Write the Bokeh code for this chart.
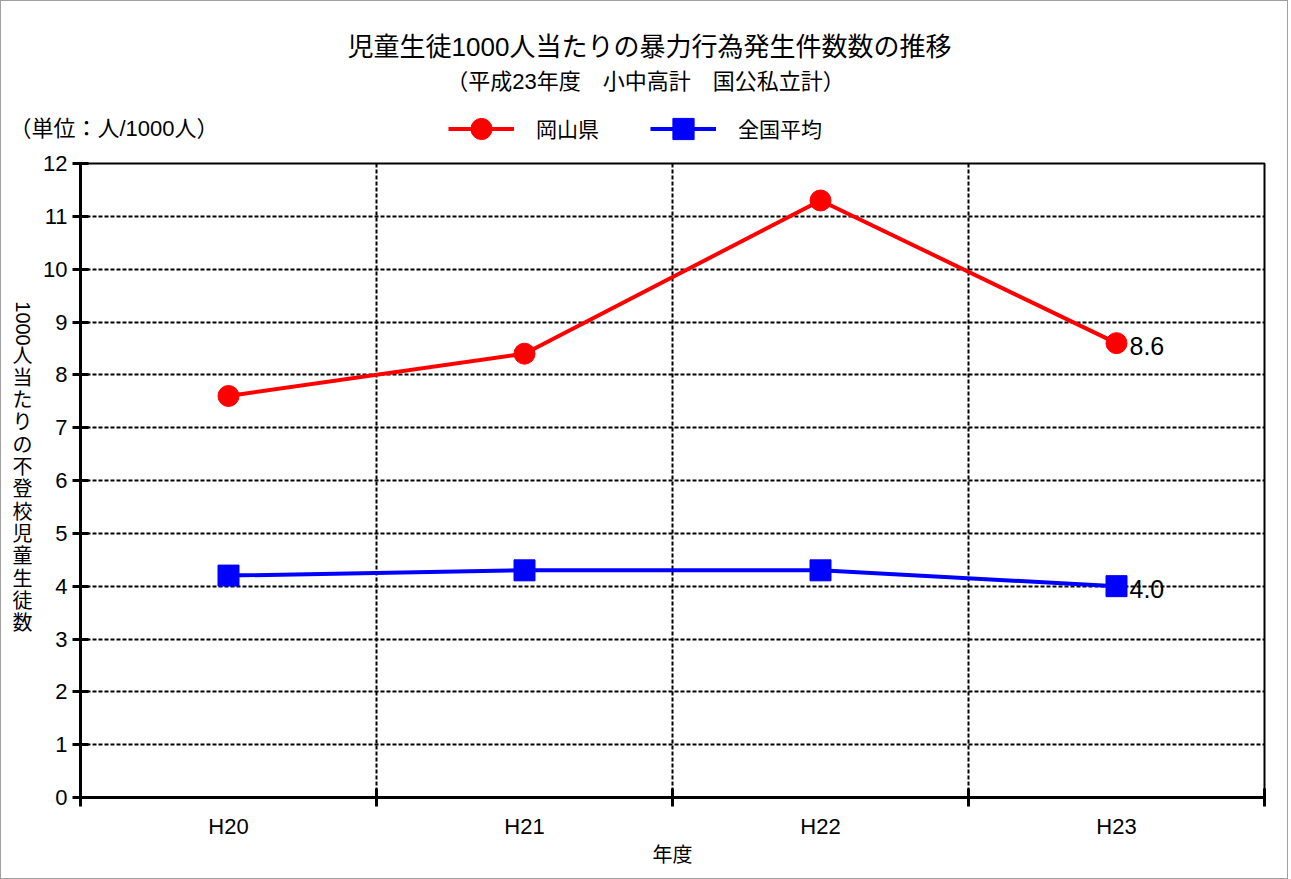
import math
from bokeh.plotting import figure
from bokeh.layouts import column, row
from bokeh.models import (Range1d, FixedTicker, Label, Legend, LegendItem, ColumnDataSource)
from bokeh.core.properties import value
from bokeh.embed import file_html
from bokeh.resources import INLINE

# ---- data ----
categories = ["H20", "H21", "H22", "H23"]
okayama = [7.6, 8.4, 11.3, 8.6]
national = [4.2, 4.3, 4.3, 4.0]
series_names = ["岡山県", "全国平均"]
series_colors = ["#ff0000", "#0000ff"]
series_markers = ["circle", "square"]
y_ticks = list(range(0, 13))

title_text = "児童生徒1000人当たりの暴力行為発生件数数の推移"
subtitle_text = "（平成23年度　小中高計　国公私立計）"
unit_text = "（単位：人/1000人）"
xaxis_title = "年度"
yaxis_title_num = "1000"
yaxis_title_chars = "人当たりの不登校児童生徒数"

FONT = "Liberation Sans, Noto Sans CJK JP"

W = 1286
HEAD_H = 145
LEFT_W = 34
MAIN_H = 732
FRAME_BOTTOM = 797  # page y of the plot frame bottom (left figure frame is aligned to it)
LEG_GLYPH_H = 53    # legend marker size is 0.4 x this


def bare_fig(w, h):
    f = figure(width=w, height=h, output_backend="svg", toolbar_location=None,
               x_axis_type=None, y_axis_type=None,
               x_range=Range1d(0, 1), y_range=Range1d(0, 1),
               min_border=0, min_border_left=0, min_border_right=0,
               min_border_top=0, min_border_bottom=0)
    f.outline_line_color = None
    f.background_fill_color = "white"
    f.border_fill_color = "white"
    f.grid.visible = False
    return f


def lab(f, text, x, y, size, align="center", baseline="middle", angle=0.0):
    f.add_layout(Label(x=x, y=y, x_units="screen", y_units="screen", text=text,
                       text_font=FONT, text_font_size=size,
                       text_align=align, text_baseline=baseline, angle=angle,
                       text_color="black"))


# ---------------- header ----------------
head = bare_fig(W, HEAD_H)
lab(head, title_text, 648, HEAD_H - 45, "26px")
lab(head, subtitle_text, 644, HEAD_H - 80, "22px")
lab(head, unit_text, 8, HEAD_H - 127, "22px", align="left")
# legend proxies: same data, but the header's ranges keep them out of view
head.x_range = Range1d(100, 101)
head.y_range = Range1d(100, 101)
proxy = ColumnDataSource(dict(x=[0.5], a=[okayama[0]], b=[national[0]]))
items = []
for name, fld, col, mk in zip(series_names, ["a", "b"], series_colors, series_markers):
    rl = head.line("x", fld, source=proxy, line_color=col, line_width=4)
    rs = head.scatter("x", fld, source=proxy, marker=mk, size=21, fill_color=col, line_color=col)
    items.append(LegendItem(label=name, renderers=[rl, rs]))
legend = Legend(items=items, location=(447, HEAD_H - 127 - LEG_GLYPH_H / 2),
                orientation="horizontal",
                glyph_width=66, glyph_height=LEG_GLYPH_H, label_standoff=22, spacing=51,
                padding=0, margin=0, border_line_color=None, background_fill_alpha=0,
                label_text_font=FONT, label_text_font_size="21px", label_text_color="black")
head.add_layout(legend, "center")

# ---------------- left (vertical axis title) ----------------
left = bare_fig(LEFT_W, MAIN_H)
lab(left, yaxis_title_num, 21, FRAME_BOTTOM - 323, "20px", angle=-math.pi / 2)
for i, ch in enumerate(yaxis_title_chars):
    lab(left, ch, 21, FRAME_BOTTOM - (355 + i * 22.3), "20px")

# ---------------- main plot ----------------
xs = [i + 0.5 for i in range(len(categories))]
p = figure(width=W - LEFT_W, height=MAIN_H, output_backend="svg", toolbar_location=None,
           x_range=Range1d(0, len(categories)), y_range=Range1d(0, 12),
           min_border_left=45, min_border_right=23, min_border_top=17, min_border_bottom=81)
p.background_fill_color = "white"
p.border_fill_color = "white"
p.outline_line_color = "black"
p.outline_line_width = 2

p.xaxis.ticker = FixedTicker(ticks=xs, minor_ticks=list(range(len(categories) + 1)))
p.xaxis.major_label_overrides = {x: c for x, c in zip(xs, categories)}
p.xaxis.major_tick_in = 0
p.xaxis.major_tick_out = 0
p.xaxis.minor_tick_in = 9
p.xaxis.minor_tick_out = 9
p.xaxis.minor_tick_line_width = 3
p.xaxis.minor_tick_line_color = "black"
p.xaxis.axis_line_width = 3
p.xaxis.axis_line_color = "black"
p.xaxis.major_label_standoff = 7
p.xaxis.major_label_text_font = "Liberation Sans"
p.xaxis.major_label_text_font_size = "22px"
p.xaxis.major_label_text_color = "black"
p.xaxis.axis_label = xaxis_title
p.xaxis.axis_label_text_font = FONT
p.xaxis.axis_label_text_font_size = "20px"
p.xaxis.axis_label_text_font_style = "normal"
p.xaxis.axis_label_text_color = "black"
p.xaxis.axis_label_standoff = 2

p.yaxis.ticker = FixedTicker(ticks=y_ticks)
p.yaxis.major_tick_in = 8
p.yaxis.major_tick_out = 8
p.yaxis.major_tick_line_width = 3
p.yaxis.major_tick_line_color = "black"
p.yaxis.minor_tick_line_color = None
p.yaxis.axis_line_width = 3
p.yaxis.axis_line_color = "black"
p.yaxis.major_label_standoff = 5
p.yaxis.major_label_text_font = "Liberation Sans"
p.yaxis.major_label_text_font_size = "22px"
p.yaxis.major_label_text_color = "black"

p.ygrid.ticker = FixedTicker(ticks=y_ticks[1:-1])
p.ygrid.grid_line_color = "black"
p.ygrid.grid_line_dash = "4 2"
p.ygrid.grid_line_width = 2
p.xgrid.ticker = FixedTicker(ticks=list(range(1, len(categories))))
p.xgrid.grid_line_color = "black"
p.xgrid.grid_line_dash = "4 2"
p.xgrid.grid_line_width = 2

src = ColumnDataSource(dict(x=xs, okayama=okayama, national=national))
for fld, col, mk in zip(["okayama", "national"], series_colors, series_markers):
    p.line("x", fld, source=src, line_color=col, line_width=4)
    p.scatter("x", fld, source=src, marker=mk, size=21, fill_color=col, line_color=col)

end_src = ColumnDataSource(dict(x=[xs[-1], xs[-1]], y=[okayama[-1], national[-1]],
                                t=[f"{okayama[-1]:.1f}", f"{national[-1]:.1f}"]))
p.text("x", "y", text="t", source=end_src, x_offset=13, y_offset=3,
       text_font=value("Liberation Sans"), text_font_size="25px",
       text_baseline="middle", text_align="left", text_color="black")

layout = column(head, row(left, p), styles={"border": "1px solid #a0a0a0"})

open("out.html", "w").write(file_html(layout, INLINE))
